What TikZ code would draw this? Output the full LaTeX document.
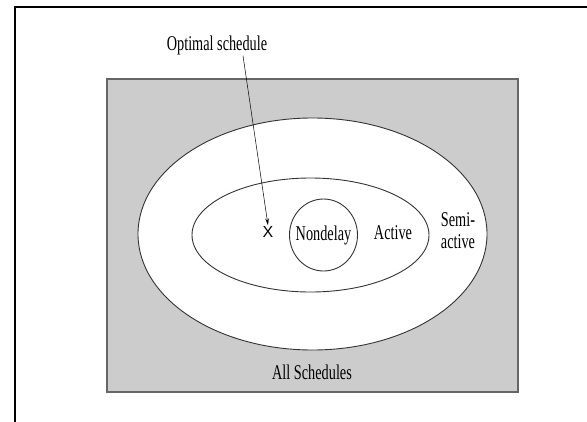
\documentclass[tikz,border=0pt]{standalone}
\usepackage{fontspec}
\setmainfont[FakeStretch=0.68]{Liberation Serif}
\newfontfamily\xfont{Liberation Sans}
\usetikzlibrary{shapes.geometric,arrows.meta}

\begin{document}
\begin{tikzpicture}[x=1pt,y=-1pt,
        ring/.style={ellipse,draw=black!80,line width=0.9pt,fill=white,inner sep=0pt},
        lbl/.style={font=\fontsize{21}{22}\selectfont,inner sep=1pt}]
        \useasboundingbox (0,0) rectangle (587,421);
        \draw[line width=2.2pt] (15,425) -- (15,7) -- (590,7);
        \node[rectangle,draw=black!60,line width=1.3pt,fill=black!20,minimum width=411pt,minimum height=313pt,inner sep=0pt] (all) at (312.5,235.5) {};
        \node[ring,minimum width=349pt,minimum height=232pt] (semi) at (312.5,234) {};
        \node[ring,minimum width=237pt,minimum height=114pt] (active) at (310.5,235) {};
        \node[ring,minimum width=68pt,minimum height=72pt] (nondelay) at (323.5,235) {};
        \node[lbl] (nondelaylbl) at (nondelay) {Nondelay};
        \node[lbl] (activelbl) at (393,233) {Active};
        \node[lbl,align=center] (semilbl) at (458,231) {Semi-\\active};
        \node[lbl] (alllbl) at (312,372) {All Schedules};
        \node[lbl] (opt) at (217,45) {Optimal schedule};
        \node[font=\xfont\fontsize{16}{16}\selectfont,inner sep=1pt] (xmark) at (268,232) {X};
        \draw[-{Stealth[length=7pt,width=3.5pt]},line width=0.5pt] ([xshift=26pt]opt.south) -- (xmark.north);
    \end{tikzpicture}
\end{document}
